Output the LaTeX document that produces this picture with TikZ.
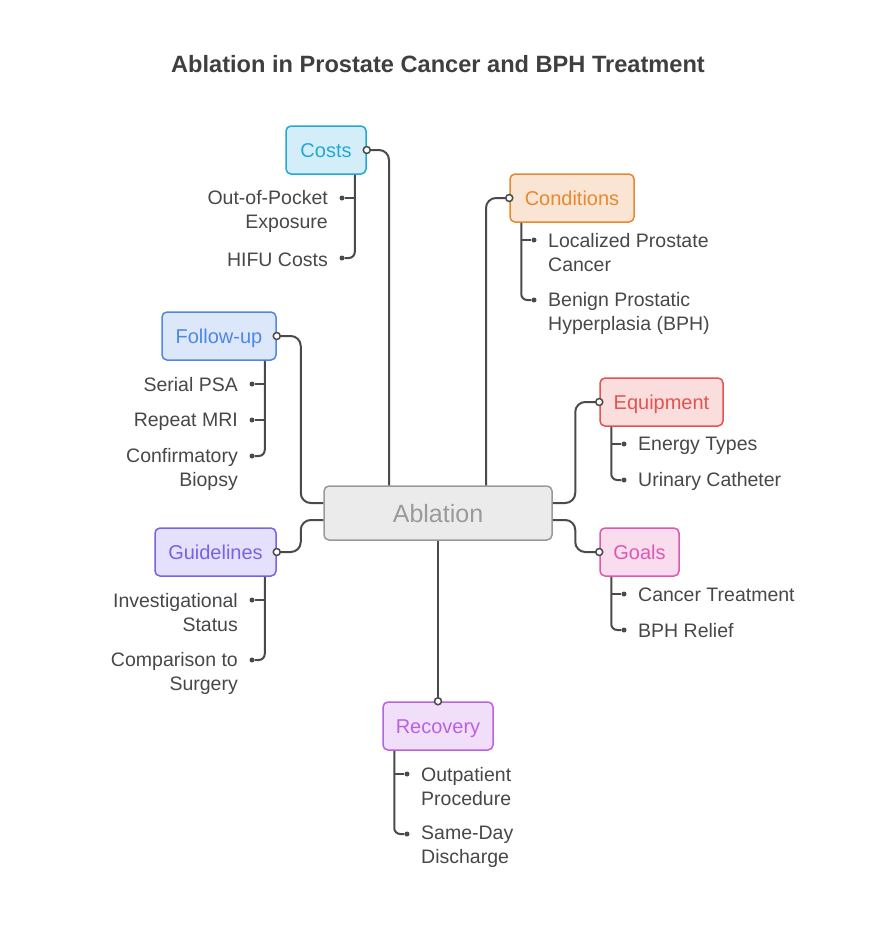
\documentclass[tikz,border=0pt]{standalone}
\usepackage{fontspec}
\setmainfont{Liberation Sans}
\usetikzlibrary{arrows.meta}
\definecolor{lkgray}{HTML}{4A4A4A}
\definecolor{txgray}{HTML}{474747}
\definecolor{ttgray}{HTML}{3F3F3F}
\definecolor{hbfill}{HTML}{EBEBEB}
\definecolor{hbline}{HTML}{9A9A9A}
\definecolor{cocyan}{HTML}{22A8D8}
\definecolor{cofill}{HTML}{D3EEF8}
\definecolor{cdorange}{HTML}{E6892F}
\definecolor{cdfill}{HTML}{FAE5D5}
\definecolor{fublue}{HTML}{4C88E6}
\definecolor{fufill}{HTML}{DCE7F9}
\definecolor{gdviolet}{HTML}{7A62E6}
\definecolor{gdfill}{HTML}{E5E0FB}
\definecolor{eqred}{HTML}{E4534F}
\definecolor{eqfill}{HTML}{FADEDD}
\definecolor{glpink}{HTML}{DE58B2}
\definecolor{glfill}{HTML}{F9DDEF}
\definecolor{rcpurple}{HTML}{B963E2}
\definecolor{rcfill}{HTML}{F1DEF9}

\tikzset{
  topic/.style={draw=#1, text=#1, rounded corners=5pt, line width=1.5pt,
    minimum height=48pt, inner sep=0pt, text height=14pt, text depth=0pt,
    font=\fontsize{20}{24}\selectfont},
  leafl/.style={anchor=east, align=right, inner sep=0pt, text=txgray,
    font=\fontsize{19.5}{24}\selectfont},
  leafr/.style={anchor=west, align=left, inner sep=0pt, text=txgray,
    font=\fontsize{19.5}{24}\selectfont},
  link/.style={draw=lkgray, line width=2pt, rounded corners=10pt},
  twig/.style={draw=lkgray, line width=2pt, rounded corners=6pt},
  port/.style={circle, draw=lkgray, fill=white, line width=1.5pt, inner sep=0pt, minimum size=7pt},
  pip/.style={circle, fill=lkgray, inner sep=0pt, minimum size=5pt}
}

\begin{document}
\begin{tikzpicture}[x=1pt, y=-1pt]
  \useasboundingbox (0,0) rectangle (876,948);

  % Title
  \node[text=ttgray, font=\fontsize{23.6}{28}\selectfont\bfseries] (title) at (438,64)
    {Ablation in Prostate Cancer and BPH Treatment};

  % Hub
  \node[draw=hbline, fill=hbfill, text=hbline, rounded corners=5pt, line width=1.5pt,
    minimum width=228pt, minimum height=54pt, text height=18pt, text depth=0pt,
    font=\fontsize{25}{29}\selectfont] (ablation) at (438,513) {Ablation};

  % Topics
  \node[topic=cocyan, fill=cofill, minimum width=80pt] (costs) at (326,150) {Costs};
  \node[topic=cdorange, fill=cdfill, minimum width=124pt] (cond) at (572,198) {Conditions};
  \node[topic=fublue, fill=fufill, minimum width=114pt] (follow) at (219,336) {Follow-up};
  \node[topic=gdviolet, fill=gdfill, minimum width=121pt] (guide) at (215.5,552) {Guidelines};
  \node[topic=eqred, fill=eqfill, minimum width=123pt] (equip) at (661.5,402) {Equipment};
  \node[topic=glpink, fill=glfill, minimum width=79pt] (goals) at (639.5,552) {Goals};
  \node[topic=rcpurple, fill=rcfill, minimum width=110pt] (recov) at (438,726) {Recovery};

  % Links
  \draw[link] (costs.east) -| ([xshift=-49pt]ablation.north);
  \draw[link] (cond.west) -| ([xshift=48pt]ablation.north);
  \draw[link] (follow.east) -- ++(24,0) |- ([yshift=10pt]ablation.west);
  \draw[link] (guide.east) -- ++(24,0) |- ([yshift=-7pt]ablation.west);
  \draw[link] (equip.west) -- ++(-24,0) |- ([yshift=10pt]ablation.east);
  \draw[link] (goals.west) -- ++(-24,0) |- ([yshift=-7pt]ablation.east);
  \draw[link] (recov.north) -- (ablation.south);

  % Leaves
  \node[pip] (co1) at (342,198) {};
  \node[pip] (co2) at (342,258) {};
  \node[leafl] (co1t) at (328,211.5) {Out-of-Pocket\\Exposure};
  \node[leafl] (co2t) at (328,259.5) {HIFU Costs};
  \draw[twig] (co1) -- ++(12,0);
  \draw[twig] ([xshift=-12pt]costs.south east) |- (co2);

  \node[pip] (cd1) at (534,240) {};
  \node[pip] (cd2) at (534,300) {};
  \node[leafr] (cd1t) at (548,253) {Localized Prostate\\Cancer};
  \node[leafr] (cd2t) at (548,313) {Benign Prostatic\\Hyperplasia (BPH)};
  \draw[twig] (cd1) -- ++(-12,0);
  \draw[twig] ([xshift=12pt]cond.south west) |- (cd2);

  \node[pip] (fu1) at (252,384) {};
  \node[pip] (fu2) at (252,420) {};
  \node[pip] (fu3) at (252,456) {};
  \node[leafl] (fu1t) at (238,385) {Serial PSA};
  \node[leafl] (fu2t) at (238,421.5) {Repeat MRI};
  \node[leafl] (fu3t) at (238,469.5) {Confirmatory\\Biopsy};
  \draw[twig] (fu1) -- ++(12,0);
  \draw[twig] (fu2) -- ++(12,0);
  \draw[twig] ([xshift=-12pt]follow.south east) |- (fu3);

  \node[pip] (gd1) at (252,600) {};
  \node[pip] (gd2) at (252,660) {};
  \node[leafl] (gd1t) at (238,613) {Investigational\\Status};
  \node[leafl] (gd2t) at (238,673) {Comparison to\\Surgery};
  \draw[twig] (gd1) -- ++(12,0);
  \draw[twig] ([xshift=-12pt]guide.south east) |- (gd2);

  \node[pip] (eq1) at (624,444) {};
  \node[pip] (eq2) at (624,480) {};
  \node[leafr] (eq1t) at (638,445.5) {Energy Types};
  \node[leafr] (eq2t) at (638,481) {Urinary Catheter};
  \draw[twig] (eq1) -- ++(-12,0);
  \draw[twig] ([xshift=12pt]equip.south west) |- (eq2);

  \node[pip] (gl1) at (624,594) {};
  \node[pip] (gl2) at (624,630) {};
  \node[leafr] (gl1t) at (638,595) {Cancer Treatment};
  \node[leafr] (gl2t) at (638,631) {BPH Relief};
  \draw[twig] (gl1) -- ++(-12,0);
  \draw[twig] ([xshift=12pt]goals.south west) |- (gl2);

  \node[pip] (rc1) at (407,774) {};
  \node[pip] (rc2) at (407,834) {};
  \node[leafr] (rc1t) at (421,787) {Outpatient\\Procedure};
  \node[leafr] (rc2t) at (421,847) {Same-Day\\Discharge};
  \draw[twig] (rc1) -- ++(-12,0);
  \draw[twig] ([xshift=12pt]recov.south west) |- (rc2);

  % Ports
  \node[port] at (costs.east) {};
  \node[port] at (cond.west) {};
  \node[port] at (follow.east) {};
  \node[port] at (guide.east) {};
  \node[port] at (equip.west) {};
  \node[port] at (goals.west) {};
  \node[port] at (recov.north) {};
\end{tikzpicture}
\end{document}
